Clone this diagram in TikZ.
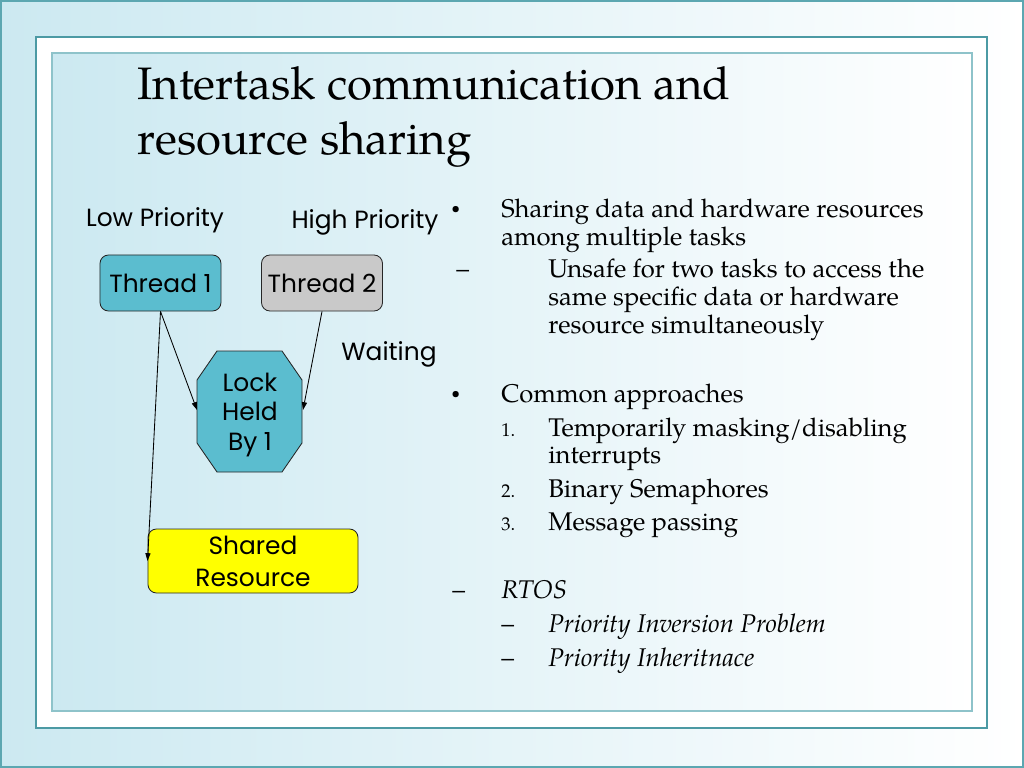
\documentclass[tikz,border=0pt]{standalone}
\usepackage{fontspec}
\setmainfont{TeX Gyre Pagella}
\newfontfamily\dfont{Poppins}
\usetikzlibrary{arrows.meta}
\definecolor{bgblue}{HTML}{CCE9F1}
\definecolor{frameout}{HTML}{5CA7B1}
\definecolor{framemid}{HTML}{4C9AA4}
\definecolor{framein}{HTML}{8EC3CA}
\definecolor{boxblue}{HTML}{5BBDCF}
\definecolor{boxgray}{HTML}{C9C9C9}
\definecolor{boxyellow}{HTML}{FFFF00}
\begin{document}
\begin{tikzpicture}[x=0.703125pt,y=-0.703125pt,
 box/.style={draw=black!85, line width=0.6pt, rounded corners=6pt, inner sep=0pt,
   font=\dfont\fontsize{17.5}{22.5}\selectfont, align=center},
 lbl/.style={font=\dfont\fontsize{17.5}{21}\selectfont, inner sep=0pt, anchor=base},
 body/.style={anchor=base west, inner sep=0pt, font=\fontsize{18}{21}\selectfont},
 bul/.style={anchor=base west, inner sep=0pt, font=\fontsize{11}{13}\selectfont},
 num/.style={anchor=base west, inner sep=0pt, font=\fontsize{13}{15}\selectfont},
 arr/.style={-{Triangle[length=5.5pt,width=3.6pt]}, line width=0.6pt, black}]
\useasboundingbox (0,0) rectangle (1024,768);
% background and frames
\shade[left color=bgblue, right color=white] (0,0) rectangle (1024,768);
\draw[frameout, line width=1pt] (1,1) rectangle (1023,767);
\fill[white] (36,37) rectangle (987,728);
\draw[framemid, line width=1.2pt] (36,37) rectangle (987,728);
\shade[left color=bgblue, right color=white] (52,53) rectangle (972,711);
\draw[framein, line width=1pt] (52,53) rectangle (972,711);
% title
\node[anchor=base west, inner sep=0pt, font=\fontsize{32}{38}\selectfont] (title1) at (137,100) {Intertask communication and};
\node[anchor=base west, inner sep=0pt, font=\fontsize{32}{38}\selectfont] (title2) at (137,155) {resource sharing};
% diagram
\node[lbl] (low) at (155,227) {Low Priority};
\node[lbl] (high) at (365,229) {High Priority};
\node[lbl] (wait) at (389,360) {Waiting};
\node[box, fill=boxblue, minimum width=85.1pt, minimum height=39.4pt] (t1) at (160.5,283) {Thread 1};
\node[box, fill=boxgray, minimum width=85.1pt, minimum height=39.4pt] (t2) at (322,283) {Thread 2};
\node[box, fill=boxyellow, minimum width=147.7pt, minimum height=45pt] (sr) at (253,561) {Shared\\Resource};
\fill[boxblue, draw=black!85, line width=0.6pt] (217,351) -- (282,351) -- (302,380) -- (302,443) -- (282,472) -- (217,472) -- (197,443) -- (197,380) -- cycle;
\coordinate (lockW) at (197,410);
\coordinate (lockE) at (303,410);
\node[inner sep=0pt, align=center, font=\dfont\fontsize{17.5}{21}\selectfont] (lock) at (250,415) {Lock\\Held\\By 1};
\draw[arr] (t1.south) -- (lockW);
\draw[arr] (t2.south) -- (lockE);
\draw[arr] (t1.south) -- (sr.west);
% right text
\node[bul] (b1) at (451,214) {•};
\node[body] (s1) at (501,218) {Sharing data and hardware resources};
\node[body] (s2) at (501,246) {among multiple tasks};
\node[body] (d1) at (456,278) {–};
\node[body] (u1) at (548,278) {Unsafe for two tasks to access the};
\node[body] (u2) at (548,306) {same specific data or hardware};
\node[body] (u3) at (548,334) {resource simultaneously};
\node[bul] (b2) at (451,398) {•};
\node[body] (c1) at (501,402) {Common approaches};
\node[num] (n1) at (501,436) {1.};
\node[body] (c2) at (548,436) {Temporarily masking/disabling};
\node[body] (c3) at (548,463) {interrupts};
\node[num] (n2) at (501,497) {2.};
\node[body] (c4) at (548,497) {Binary Semaphores};
\node[num] (n3) at (501,530) {3.};
\node[body] (c5) at (548,530) {Message passing};
\node[body] (d2) at (452,598) {–};
\node[body] (r1) at (501,598) {\itshape RTOS};
\node[body] (d3) at (501,632) {–};
\node[body] (r2) at (548,632) {\itshape Priority Inversion Problem};
\node[body] (d4) at (501,666) {–};
\node[body] (r3) at (548,666) {\itshape Priority Inheritnace};
\end{tikzpicture}
\end{document}
